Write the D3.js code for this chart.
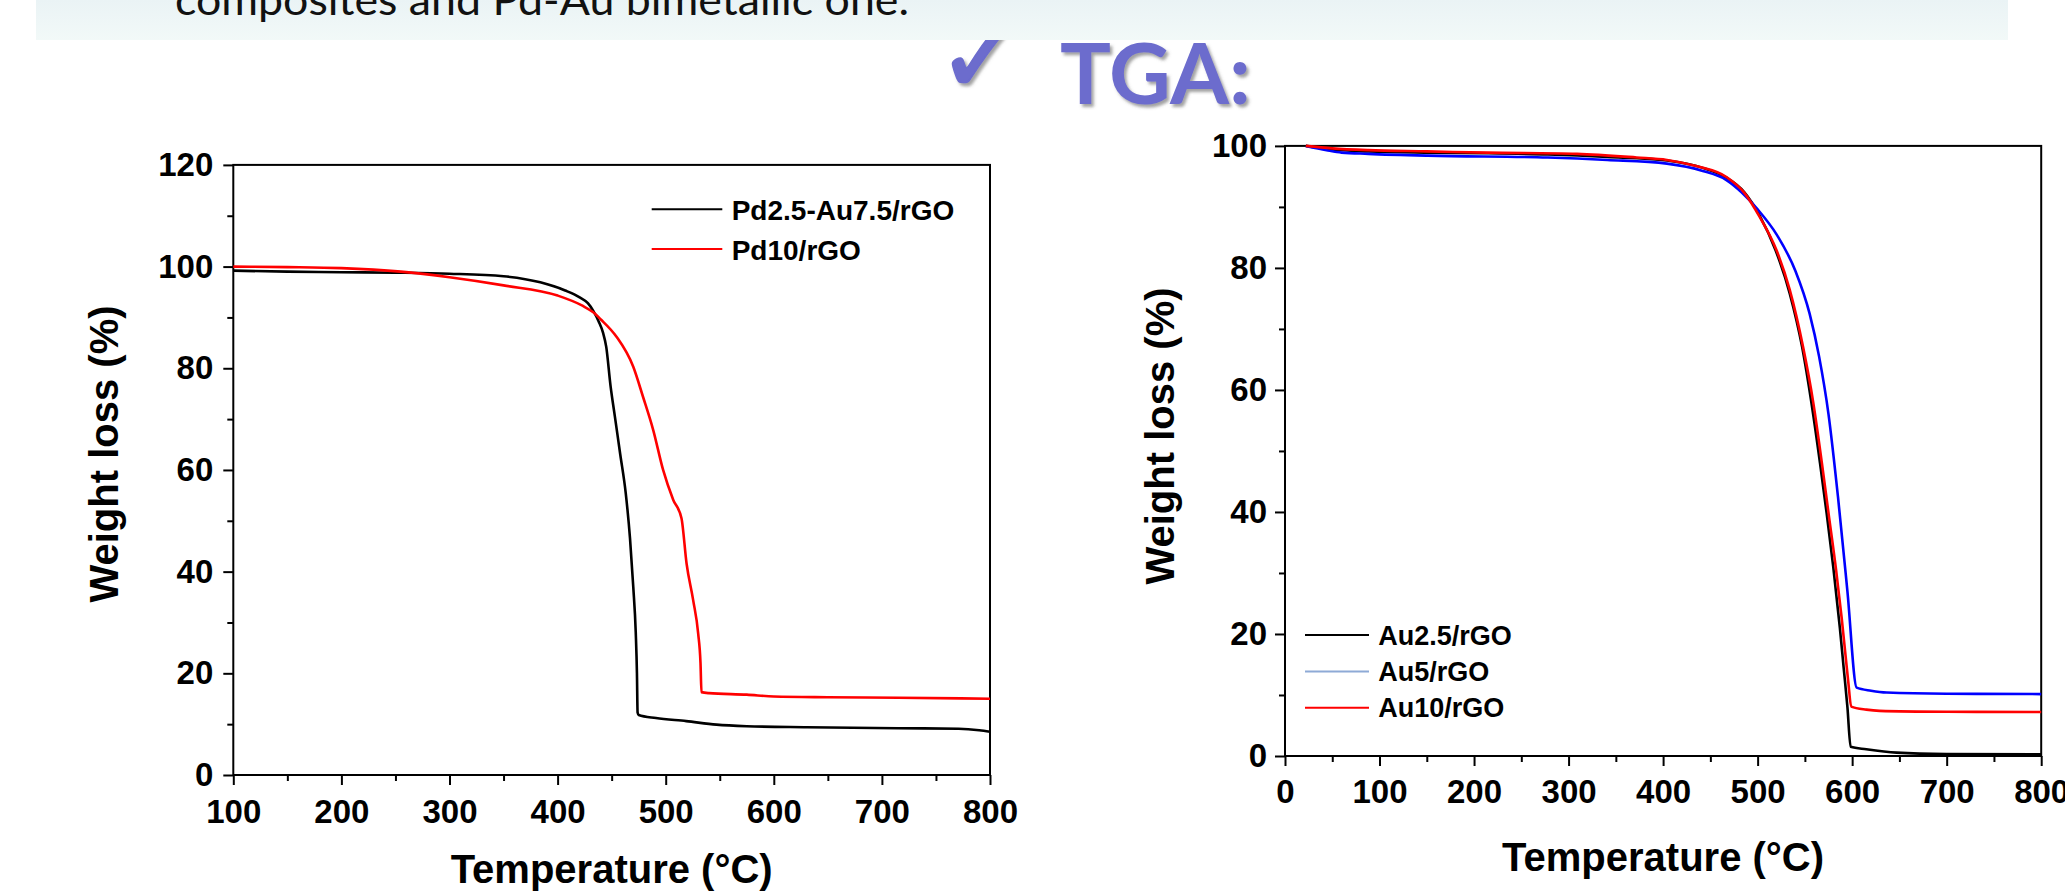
<!DOCTYPE html>
<html><head><meta charset="utf-8">
<script src="https://cdn.jsdelivr.net/npm/d3@7/dist/d3.min.js"></script>
<style>
  html,body{margin:0;padding:0;background:#fff;overflow:hidden}
  svg{display:block}
</style>
</head><body>
<svg id="c" width="2065" height="891"></svg>
<script>
// ---------------- DATA ----------------
const headerText = "composites and Pd-Au bimetallic one.";
const sectionTitle = "TGA:";
const checkGlyph = "\u2713";

const xTitle = "Temperature (\u00B0C)";
const yTitle = "Weight loss (%)";

// Left chart
const leftSeriesNames = ["Pd2.5-Au7.5/rGO", "Pd10/rGO"];
const leftXTicks = [100, 200, 300, 400, 500, 600, 700, 800];
const leftYTicks = [0, 20, 40, 60, 80, 100, 120];
const pdAuTemp   = [100, 150, 200, 250, 300, 350, 384, 407, 420, 428, 433, 438, 442, 445, 449, 453, 458, 463, 467, 470, 472.3, 473.4, 474, 475, 491, 519, 547, 575, 631, 715, 771, 790, 800];
const pdAuWeight = [99.2, 99.0, 98.9, 98.8, 98.6, 98.1, 96.9, 95.3, 94.0, 92.8, 91.3, 89.2, 87.0, 84.2, 76.5, 70.5, 63.0, 55.5, 46.5, 37.0, 28.0, 20.0, 12.3, 11.8, 11.2, 10.6, 9.9, 9.6, 9.4, 9.2, 9.1, 8.8, 8.5];
const pd10Temp   = [100, 150, 200, 255, 300, 350, 400, 423, 433, 440, 454.5, 470, 479, 488.4, 497.6, 507, 514.6, 519.3, 525.4, 530, 532.2, 533.1, 540, 575, 600, 650, 715, 800];
const pd10Weight = [100, 99.9, 99.7, 99.0, 97.9, 96.3, 94.3, 92.3, 91.0, 89.6, 86.2, 80.3, 74.4, 67.9, 60, 54.1, 50.5, 41.6, 34.4, 27.9, 22, 16.3, 16.1, 15.8, 15.45, 15.3, 15.2, 15.0];

// Right chart
const rightSeriesNames = ["Au2.5/rGO", "Au5/rGO", "Au10/rGO"];
const rightXTicks = [0, 100, 200, 300, 400, 500, 600, 700, 800];
const rightYTicks = [0, 20, 40, 60, 80, 100];
const au25Temp   = [22, 50, 88, 150, 214, 278, 341, 404, 442, 467, 486, 502, 519, 534, 547, 557, 566, 573, 580, 587, 591, 595, 598.4, 615, 647, 700, 800];
const au25Weight = [100, 99.4, 99.1, 98.9, 98.8, 98.6, 98.2, 97.6, 96.4, 94.8, 92.4, 88.6, 82.9, 75.8, 67.1, 57.8, 48, 39.8, 31, 21, 14.5, 8, 1.5, 1.1, 0.55, 0.33, 0.27];
const au5Temp    = [22, 44, 60, 88, 151, 278, 341, 404, 442, 467, 483, 500, 520, 540, 555, 565, 575, 585, 595, 604.8, 620, 636.5, 700, 800];
const au5Weight  = [100, 99.3, 98.9, 98.7, 98.4, 98.1, 97.7, 97.1, 95.9, 94.4, 92.4, 89.6, 85.5, 79.5, 72.5, 65.5, 56.0, 42.5, 27.0, 11.2, 10.7, 10.4, 10.2, 10.15];
const au10Temp   = [22, 50, 88, 150, 214, 309, 372, 404, 435, 467, 486, 502, 520, 534, 548, 559, 568, 575, 583, 589, 593, 596, 599, 615, 629, 700, 800];
const au10Weight = [100, 99.6, 99.3, 99.1, 98.9, 98.7, 98.1, 97.7, 96.7, 94.9, 92.3, 88.4, 82.9, 76.4, 67.1, 57.8, 48, 39.8, 30.5, 22.5, 16.5, 12, 8.1, 7.6, 7.4, 7.25, 7.2];

// ---------------- DRAW ----------------
const svg = d3.select("#c");
const FONT = "'Liberation Sans', Arial, Helvetica, sans-serif";

const defs = svg.append("defs");
const grad = defs.append("linearGradient").attr("id","hdr").attr("x1",0).attr("y1",0).attr("x2",0).attr("y2",1);
grad.append("stop").attr("offset","0%").attr("stop-color","#eaf3f5");
grad.append("stop").attr("offset","100%").attr("stop-color","#f2f9f8");
const f = defs.append("filter").attr("id","shadow").attr("x","-20%").attr("y","-20%").attr("width","140%").attr("height","150%");
f.append("feDropShadow").attr("dx",2.5).attr("dy",3).attr("stdDeviation",1.6)
  .attr("flood-color","#555").attr("flood-opacity",0.55);

// Section title with check mark
svg.append("text").attr("x", 936).attr("y", 93)
  .attr("font-family","'DejaVu Sans', sans-serif").attr("font-weight","bold")
  .attr("font-size", 110).attr("fill","#6c6ccd")
  .attr("stroke","#6c6ccd").attr("stroke-width",1.5)
  .attr("filter","url(#shadow)")
  .text(checkGlyph);
svg.append("text").attr("x", 1060).attr("y", 104)
  .attr("font-family","Lato, 'Open Sans', sans-serif").attr("font-weight","bold")
  .attr("font-size", 85).attr("fill","#6c6ccd").attr("filter","url(#shadow)")
  .text(sectionTitle);

// Header panel
svg.append("rect").attr("x", 36).attr("y", 0).attr("width", 1972).attr("height", 40).attr("fill","url(#hdr)");
svg.append("text").attr("x", 175).attr("y", 15)
  .attr("font-family","Lato, 'Open Sans', sans-serif").attr("font-size", 42).attr("fill","#111")
  .attr("textLength", 734).attr("lengthAdjust","spacingAndGlyphs")
  .text(headerText);

function drawChart(cfg) {
  const g = svg.append("g");
  const x = d3.scaleLinear().domain(cfg.xDomain).range([cfg.x0, cfg.x1]);
  const y = d3.scaleLinear().domain(cfg.yDomain).range([cfg.y0, cfg.y1]);

  const xMinor = d3.range(cfg.xDomain[0], cfg.xDomain[1] + 1, 50).filter(v => !cfg.xTicks.includes(v));
  const yMinor = d3.range(cfg.yDomain[0], cfg.yDomain[1] + 1, 10).filter(v => !cfg.yTicks.includes(v));

  g.append("g").attr("transform", `translate(0,${cfg.y0})`)
    .call(d3.axisBottom(x).tickValues(cfg.xTicks).tickSize(10).tickPadding(cfg.xPad).tickFormat(d3.format("d")));
  g.append("g").attr("transform", `translate(0,${cfg.y0})`)
    .call(d3.axisBottom(x).tickValues(xMinor).tickSize(6).tickFormat(""));
  g.append("g").attr("transform", `translate(${cfg.x0},0)`)
    .call(d3.axisLeft(y).tickValues(cfg.yTicks).tickSize(10).tickPadding(cfg.yPad).tickFormat(d3.format("d")));
  g.append("g").attr("transform", `translate(${cfg.x0},0)`)
    .call(d3.axisLeft(y).tickValues(yMinor).tickSize(6).tickFormat(""));

  g.selectAll(".domain").remove();
  g.selectAll(".tick line").attr("stroke","#000").attr("stroke-width",2);
  g.selectAll(".tick text").attr("font-family", FONT).attr("font-weight","bold")
    .attr("font-size", 33).attr("fill","#000");

  g.append("rect").attr("x", cfg.x0).attr("y", cfg.y1)
    .attr("width", cfg.x1 - cfg.x0).attr("height", cfg.y0 - cfg.y1)
    .attr("fill","none").attr("stroke","#000").attr("stroke-width",2);

  const line = d3.line().x(d => x(d[0])).y(d => y(d[1])).curve(d3.curveMonotoneX);
  cfg.series.forEach(s => {
    g.append("path").datum(d3.zip(s.t, s.v))
      .attr("d", line).attr("fill","none").attr("stroke", s.color)
      .attr("stroke-width", 2.6).attr("stroke-linejoin","round");
  });

  cfg.series.forEach((s, i) => {
    const ly = cfg.legY + i * cfg.legStep;
    g.append("line").attr("x1", cfg.legX1).attr("x2", cfg.legX2).attr("y1", ly).attr("y2", ly)
      .attr("stroke", s.legendColor || s.color).attr("stroke-width", 2);
    g.append("text").attr("x", cfg.legTextX).attr("y", ly + cfg.legBase)
      .attr("font-family", FONT).attr("font-weight","bold").attr("font-size", cfg.legFont)
      .attr("fill","#000").text(s.name);
  });

  g.append("text").attr("x", (cfg.x0 + cfg.x1) / 2 + cfg.xtDx).attr("y", cfg.xtY)
    .attr("text-anchor","middle").attr("font-family", FONT).attr("font-weight","bold")
    .attr("font-size", 40).text(xTitle);
  g.append("text").attr("transform", `translate(${cfg.ytX},${cfg.ytY}) rotate(-90)`)
    .attr("text-anchor","middle").attr("font-family", FONT).attr("font-weight","bold")
    .attr("font-size", 40).text(yTitle);
}

drawChart({
  x0: 233.3, x1: 990, y0: 775, y1: 164.9,
  xDomain: [100, 800], yDomain: [0, 120],
  xTicks: leftXTicks, yTicks: leftYTicks, xPad: 15, yPad: 10,
  series: [
    {name: leftSeriesNames[0], t: pdAuTemp, v: pdAuWeight, color: "#000000"},
    {name: leftSeriesNames[1], t: pd10Temp, v: pd10Weight, color: "#ff0000"}
  ],
  legY: 209.3, legStep: 39.7, legX1: 651.7, legX2: 722.3, legTextX: 731.7, legBase: 10.7, legFont: 28,
  xtDx: 0, xtY: 883, ytX: 118, ytY: 454
});

drawChart({
  x0: 1285, x1: 2041.2, y0: 756, y1: 145.9,
  xDomain: [0, 800], yDomain: [0, 100],
  xTicks: rightXTicks, yTicks: rightYTicks, xPad: 14, yPad: 8,
  series: [
    {name: rightSeriesNames[0], t: au25Temp, v: au25Weight, color: "#000000"},
    {name: rightSeriesNames[1], t: au5Temp, v: au5Weight, color: "#0000ff", legendColor: "#8eaad6"},
    {name: rightSeriesNames[2], t: au10Temp, v: au10Weight, color: "#ff0000"}
  ],
  legY: 635, legStep: 36.4, legX1: 1305, legX2: 1369, legTextX: 1378.3, legBase: 9.5, legFont: 27,
  xtDx: 0, xtY: 871, ytX: 1173.6, ytY: 436
});
</script>
</body></html>
